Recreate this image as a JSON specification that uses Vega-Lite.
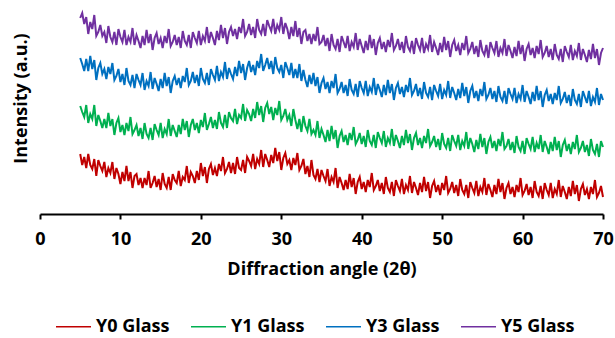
{
"$schema": "https://vega.github.io/schema/vega-lite/v6.json",
"width": 563, "height": 214,
"autosize": {"type": "none"},
"padding": {"left": 40, "top": 0, "right": 12, "bottom": 124},
"background": "white",
"config": {"view": {"stroke": null}, "font": "Open Sans"},
"data": {"values": [
{"x":5,"Y0":60,"Y1":108,"Y3":156,"Y5":196},
{"x":5.25,"Y0":49,"Y1":102,"Y3":150,"Y5":201},
{"x":5.5,"Y0":57,"Y1":97,"Y3":143,"Y5":190},
{"x":5.75,"Y0":46,"Y1":109,"Y3":155,"Y5":197},
{"x":6,"Y0":60,"Y1":91,"Y3":143,"Y5":180},
{"x":6.25,"Y0":49,"Y1":100,"Y3":158,"Y5":192},
{"x":6.5,"Y0":45,"Y1":95,"Y3":145,"Y5":185},
{"x":6.75,"Y0":55,"Y1":109,"Y3":154,"Y5":199},
{"x":7,"Y0":38,"Y1":88,"Y3":134,"Y5":178},
{"x":7.25,"Y0":54,"Y1":99,"Y3":146,"Y5":182},
{"x":7.5,"Y0":48,"Y1":93,"Y3":151,"Y5":189},
{"x":7.75,"Y0":43,"Y1":86,"Y3":140,"Y5":178},
{"x":8,"Y0":52,"Y1":95,"Y3":145,"Y5":182},
{"x":8.25,"Y0":37,"Y1":86,"Y3":135,"Y5":171},
{"x":8.5,"Y0":46,"Y1":101,"Y3":147,"Y5":188},
{"x":8.75,"Y0":41,"Y1":88,"Y3":140,"Y5":177},
{"x":9,"Y0":52,"Y1":95,"Y3":151,"Y5":172},
{"x":9.25,"Y0":35,"Y1":79,"Y3":134,"Y5":182},
{"x":9.5,"Y0":46,"Y1":91,"Y3":138,"Y5":169},
{"x":9.75,"Y0":40,"Y1":96,"Y3":145,"Y5":185},
{"x":10,"Y0":30,"Y1":82,"Y3":132,"Y5":177},
{"x":10.25,"Y0":42,"Y1":89,"Y3":140,"Y5":172},
{"x":10.5,"Y0":33,"Y1":79,"Y3":129,"Y5":184},
{"x":10.75,"Y0":48,"Y1":91,"Y3":146,"Y5":169},
{"x":11,"Y0":33,"Y1":83,"Y3":133,"Y5":177},
{"x":11.25,"Y0":42,"Y1":97,"Y3":129,"Y5":172},
{"x":11.5,"Y0":26,"Y1":80,"Y3":139,"Y5":186},
{"x":11.75,"Y0":38,"Y1":84,"Y3":126,"Y5":169},
{"x":12,"Y0":40,"Y1":89,"Y3":140,"Y5":179},
{"x":12.25,"Y0":29,"Y1":78,"Y3":134,"Y5":173},
{"x":12.5,"Y0":36,"Y1":86,"Y3":129,"Y5":166},
{"x":12.75,"Y0":26,"Y1":75,"Y3":141,"Y5":178},
{"x":13,"Y0":36,"Y1":91,"Y3":124,"Y5":169},
{"x":13.25,"Y0":29,"Y1":80,"Y3":133,"Y5":184},
{"x":13.5,"Y0":43,"Y1":76,"Y3":128,"Y5":171},
{"x":13.75,"Y0":26,"Y1":86,"Y3":142,"Y5":180},
{"x":14,"Y0":31,"Y1":74,"Y3":125,"Y5":164},
{"x":14.25,"Y0":38,"Y1":90,"Y3":136,"Y5":176},
{"x":14.5,"Y0":27,"Y1":84,"Y3":130,"Y5":181},
{"x":14.75,"Y0":35,"Y1":79,"Y3":123,"Y5":170},
{"x":15,"Y0":24,"Y1":91,"Y3":135,"Y5":176},
{"x":15.25,"Y0":41,"Y1":76,"Y3":126,"Y5":166},
{"x":15.5,"Y0":30,"Y1":85,"Y3":141,"Y5":178},
{"x":15.75,"Y0":26,"Y1":80,"Y3":128,"Y5":171},
{"x":16,"Y0":37,"Y1":95,"Y3":137,"Y5":185},
{"x":16.25,"Y0":24,"Y1":78,"Y3":121,"Y5":168},
{"x":16.5,"Y0":40,"Y1":89,"Y3":133,"Y5":172},
{"x":16.75,"Y0":34,"Y1":83,"Y3":138,"Y5":179},
{"x":17,"Y0":31,"Y1":77,"Y3":129,"Y5":169},
{"x":17.25,"Y0":43,"Y1":89,"Y3":136,"Y5":177},
{"x":17.5,"Y0":28,"Y1":80,"Y3":126,"Y5":166},
{"x":17.75,"Y0":37,"Y1":95,"Y3":138,"Y5":183},
{"x":18,"Y0":34,"Y1":84,"Y3":132,"Y5":173},
{"x":18.25,"Y0":48,"Y1":93,"Y3":146,"Y5":169},
{"x":18.5,"Y0":31,"Y1":77,"Y3":129,"Y5":179},
{"x":18.75,"Y0":42,"Y1":89,"Y3":133,"Y5":166},
{"x":19,"Y0":38,"Y1":95,"Y3":142,"Y5":182},
{"x":19.25,"Y0":31,"Y1":84,"Y3":131,"Y5":176},
{"x":19.5,"Y0":43,"Y1":91,"Y3":139,"Y5":171},
{"x":19.75,"Y0":34,"Y1":81,"Y3":128,"Y5":183},
{"x":20,"Y0":51,"Y1":94,"Y3":146,"Y5":169},
{"x":20.25,"Y0":38,"Y1":87,"Y3":135,"Y5":178},
{"x":20.5,"Y0":47,"Y1":101,"Y3":131,"Y5":173},
{"x":20.75,"Y0":31,"Y1":84,"Y3":141,"Y5":187},
{"x":21,"Y0":45,"Y1":90,"Y3":129,"Y5":171},
{"x":21.25,"Y0":50,"Y1":97,"Y3":145,"Y5":182},
{"x":21.5,"Y0":39,"Y1":86,"Y3":139,"Y5":176},
{"x":21.75,"Y0":46,"Y1":94,"Y3":134,"Y5":169},
{"x":22,"Y0":38,"Y1":85,"Y3":148,"Y5":183},
{"x":22.25,"Y0":50,"Y1":102,"Y3":133,"Y5":174},
{"x":22.5,"Y0":43,"Y1":91,"Y3":142,"Y5":189},
{"x":22.75,"Y0":57,"Y1":87,"Y3":137,"Y5":176},
{"x":23,"Y0":41,"Y1":99,"Y3":152,"Y5":186},
{"x":23.25,"Y0":45,"Y1":86,"Y3":135,"Y5":170},
{"x":23.5,"Y0":52,"Y1":102,"Y3":146,"Y5":182},
{"x":23.75,"Y0":41,"Y1":96,"Y3":140,"Y5":187},
{"x":24,"Y0":51,"Y1":93,"Y3":135,"Y5":178},
{"x":24.25,"Y0":40,"Y1":105,"Y3":147,"Y5":185},
{"x":24.5,"Y0":57,"Y1":90,"Y3":138,"Y5":175},
{"x":24.75,"Y0":46,"Y1":99,"Y3":153,"Y5":187},
{"x":25,"Y0":44,"Y1":96,"Y3":141,"Y5":181},
{"x":25.25,"Y0":54,"Y1":110,"Y3":150,"Y5":195},
{"x":25.5,"Y0":41,"Y1":93,"Y3":134,"Y5":178},
{"x":25.75,"Y0":57,"Y1":104,"Y3":146,"Y5":182},
{"x":26,"Y0":53,"Y1":100,"Y3":153,"Y5":190},
{"x":26.25,"Y0":48,"Y1":93,"Y3":142,"Y5":179},
{"x":26.5,"Y0":60,"Y1":105,"Y3":149,"Y5":187},
{"x":26.75,"Y0":45,"Y1":96,"Y3":139,"Y5":176},
{"x":27,"Y0":55,"Y1":112,"Y3":153,"Y5":195},
{"x":27.25,"Y0":50,"Y1":99,"Y3":146,"Y5":184},
{"x":27.5,"Y0":64,"Y1":108,"Y3":160,"Y5":180},
{"x":27.75,"Y0":47,"Y1":92,"Y3":143,"Y5":190},
{"x":28,"Y0":60,"Y1":106,"Y3":149,"Y5":178},
{"x":28.25,"Y0":54,"Y1":111,"Y3":156,"Y5":194},
{"x":28.5,"Y0":47,"Y1":100,"Y3":145,"Y5":188},
{"x":28.75,"Y0":59,"Y1":107,"Y3":153,"Y5":183},
{"x":29,"Y0":51,"Y1":94,"Y3":140,"Y5":195},
{"x":29.25,"Y0":66,"Y1":106,"Y3":157,"Y5":180},
{"x":29.5,"Y0":53,"Y1":99,"Y3":146,"Y5":189},
{"x":29.75,"Y0":62,"Y1":113,"Y3":142,"Y5":184},
{"x":30,"Y0":44,"Y1":94,"Y3":149,"Y5":197},
{"x":30.25,"Y0":56,"Y1":98,"Y3":136,"Y5":180},
{"x":30.5,"Y0":61,"Y1":105,"Y3":152,"Y5":191},
{"x":30.75,"Y0":50,"Y1":94,"Y3":146,"Y5":185},
{"x":31,"Y0":54,"Y1":99,"Y3":139,"Y5":175},
{"x":31.25,"Y0":44,"Y1":88,"Y3":151,"Y5":187},
{"x":31.5,"Y0":56,"Y1":105,"Y3":136,"Y5":178},
{"x":31.75,"Y0":49,"Y1":94,"Y3":145,"Y5":193},
{"x":32,"Y0":61,"Y1":85,"Y3":136,"Y5":177},
{"x":32.25,"Y0":44,"Y1":95,"Y3":150,"Y5":186},
{"x":32.5,"Y0":48,"Y1":82,"Y3":133,"Y5":170},
{"x":32.75,"Y0":55,"Y1":98,"Y3":144,"Y5":182},
{"x":33,"Y0":40,"Y1":88,"Y3":134,"Y5":184},
{"x":33.25,"Y0":48,"Y1":83,"Y3":127,"Y5":173},
{"x":33.5,"Y0":37,"Y1":95,"Y3":139,"Y5":180},
{"x":33.75,"Y0":54,"Y1":80,"Y3":130,"Y5":170},
{"x":34,"Y0":39,"Y1":84,"Y3":141,"Y5":180},
{"x":34.25,"Y0":35,"Y1":79,"Y3":128,"Y5":173},
{"x":34.5,"Y0":45,"Y1":93,"Y3":137,"Y5":187},
{"x":34.75,"Y0":32,"Y1":76,"Y3":121,"Y5":170},
{"x":35,"Y0":44,"Y1":85,"Y3":131,"Y5":172},
{"x":35.25,"Y0":38,"Y1":79,"Y3":136,"Y5":179},
{"x":35.5,"Y0":33,"Y1":72,"Y3":125,"Y5":168},
{"x":35.75,"Y0":45,"Y1":84,"Y3":132,"Y5":176},
{"x":36,"Y0":28,"Y1":73,"Y3":121,"Y5":163},
{"x":36.25,"Y0":37,"Y1":88,"Y3":133,"Y5":180},
{"x":36.5,"Y0":32,"Y1":75,"Y3":126,"Y5":169},
{"x":36.75,"Y0":46,"Y1":84,"Y3":140,"Y5":165},
{"x":37,"Y0":26,"Y1":66,"Y3":121,"Y5":175},
{"x":37.25,"Y0":37,"Y1":78,"Y3":125,"Y5":162},
{"x":37.5,"Y0":31,"Y1":83,"Y3":132,"Y5":178},
{"x":37.75,"Y0":24,"Y1":72,"Y3":121,"Y5":172},
{"x":38,"Y0":34,"Y1":79,"Y3":129,"Y5":166},
{"x":38.25,"Y0":25,"Y1":69,"Y3":118,"Y5":178},
{"x":38.5,"Y0":40,"Y1":81,"Y3":135,"Y5":163},
{"x":38.75,"Y0":27,"Y1":74,"Y3":124,"Y5":172},
{"x":39,"Y0":36,"Y1":87,"Y3":120,"Y5":167},
{"x":39.25,"Y0":20,"Y1":70,"Y3":130,"Y5":181},
{"x":39.5,"Y0":32,"Y1":74,"Y3":117,"Y5":164},
{"x":39.75,"Y0":37,"Y1":81,"Y3":133,"Y5":175},
{"x":40,"Y0":25,"Y1":70,"Y3":126,"Y5":168},
{"x":40.25,"Y0":32,"Y1":78,"Y3":121,"Y5":161},
{"x":40.5,"Y0":22,"Y1":67,"Y3":133,"Y5":173},
{"x":40.75,"Y0":34,"Y1":84,"Y3":118,"Y5":164},
{"x":41,"Y0":27,"Y1":73,"Y3":127,"Y5":179},
{"x":41.25,"Y0":41,"Y1":69,"Y3":122,"Y5":166},
{"x":41.5,"Y0":24,"Y1":79,"Y3":136,"Y5":175},
{"x":41.75,"Y0":28,"Y1":66,"Y3":119,"Y5":159},
{"x":42,"Y0":34,"Y1":82,"Y3":130,"Y5":171},
{"x":42.25,"Y0":23,"Y1":76,"Y3":124,"Y5":176},
{"x":42.5,"Y0":31,"Y1":71,"Y3":117,"Y5":165},
{"x":42.75,"Y0":20,"Y1":83,"Y3":129,"Y5":172},
{"x":43,"Y0":37,"Y1":67,"Y3":119,"Y5":162},
{"x":43.25,"Y0":26,"Y1":76,"Y3":134,"Y5":174},
{"x":43.5,"Y0":22,"Y1":71,"Y3":121,"Y5":167},
{"x":43.75,"Y0":32,"Y1":85,"Y3":130,"Y5":181},
{"x":44,"Y0":18,"Y1":68,"Y3":114,"Y5":164},
{"x":44.25,"Y0":34,"Y1":79,"Y3":126,"Y5":168},
{"x":44.5,"Y0":28,"Y1":73,"Y3":131,"Y5":175},
{"x":44.75,"Y0":23,"Y1":66,"Y3":120,"Y5":164},
{"x":45,"Y0":35,"Y1":78,"Y3":127,"Y5":172},
{"x":45.25,"Y0":20,"Y1":69,"Y3":117,"Y5":161},
{"x":45.5,"Y0":29,"Y1":84,"Y3":129,"Y5":178},
{"x":45.75,"Y0":24,"Y1":71,"Y3":122,"Y5":167},
{"x":46,"Y0":38,"Y1":80,"Y3":136,"Y5":163},
{"x":46.25,"Y0":21,"Y1":64,"Y3":119,"Y5":173},
{"x":46.5,"Y0":32,"Y1":76,"Y3":123,"Y5":160},
{"x":46.75,"Y0":26,"Y1":81,"Y3":130,"Y5":176},
{"x":47,"Y0":19,"Y1":69,"Y3":118,"Y5":169},
{"x":47.25,"Y0":31,"Y1":76,"Y3":126,"Y5":164},
{"x":47.5,"Y0":22,"Y1":66,"Y3":115,"Y5":176},
{"x":47.75,"Y0":37,"Y1":78,"Y3":132,"Y5":161},
{"x":48,"Y0":23,"Y1":71,"Y3":121,"Y5":170},
{"x":48.25,"Y0":32,"Y1":85,"Y3":117,"Y5":165},
{"x":48.5,"Y0":16,"Y1":68,"Y3":127,"Y5":179},
{"x":48.75,"Y0":28,"Y1":72,"Y3":114,"Y5":162},
{"x":49,"Y0":33,"Y1":78,"Y3":129,"Y5":172},
{"x":49.25,"Y0":22,"Y1":67,"Y3":123,"Y5":166},
{"x":49.5,"Y0":29,"Y1":75,"Y3":118,"Y5":159},
{"x":49.75,"Y0":19,"Y1":64,"Y3":130,"Y5":171},
{"x":50,"Y0":31,"Y1":81,"Y3":115,"Y5":162},
{"x":50.25,"Y0":24,"Y1":70,"Y3":124,"Y5":177},
{"x":50.5,"Y0":38,"Y1":66,"Y3":119,"Y5":164},
{"x":50.75,"Y0":21,"Y1":76,"Y3":133,"Y5":173},
{"x":51,"Y0":25,"Y1":63,"Y3":116,"Y5":157},
{"x":51.25,"Y0":32,"Y1":79,"Y3":127,"Y5":169},
{"x":51.5,"Y0":21,"Y1":73,"Y3":121,"Y5":174},
{"x":51.75,"Y0":29,"Y1":68,"Y3":114,"Y5":163},
{"x":52,"Y0":18,"Y1":79,"Y3":125,"Y5":169},
{"x":52.25,"Y0":35,"Y1":64,"Y3":116,"Y5":159},
{"x":52.5,"Y0":24,"Y1":73,"Y3":131,"Y5":171},
{"x":52.75,"Y0":20,"Y1":68,"Y3":118,"Y5":164},
{"x":53,"Y0":29,"Y1":82,"Y3":127,"Y5":178},
{"x":53.25,"Y0":16,"Y1":65,"Y3":111,"Y5":161},
{"x":53.5,"Y0":32,"Y1":76,"Y3":123,"Y5":165},
{"x":53.75,"Y0":26,"Y1":70,"Y3":128,"Y5":172},
{"x":54,"Y0":21,"Y1":62,"Y3":116,"Y5":160},
{"x":54.25,"Y0":33,"Y1":74,"Y3":123,"Y5":168},
{"x":54.5,"Y0":18,"Y1":65,"Y3":113,"Y5":157},
{"x":54.75,"Y0":27,"Y1":80,"Y3":125,"Y5":174},
{"x":55,"Y0":22,"Y1":67,"Y3":118,"Y5":163},
{"x":55.25,"Y0":36,"Y1":76,"Y3":132,"Y5":159},
{"x":55.5,"Y0":19,"Y1":60,"Y3":115,"Y5":169},
{"x":55.75,"Y0":30,"Y1":72,"Y3":119,"Y5":156},
{"x":56,"Y0":24,"Y1":77,"Y3":126,"Y5":172},
{"x":56.25,"Y0":17,"Y1":66,"Y3":115,"Y5":166},
{"x":56.5,"Y0":29,"Y1":73,"Y3":123,"Y5":161},
{"x":56.75,"Y0":20,"Y1":63,"Y3":112,"Y5":173},
{"x":57,"Y0":35,"Y1":75,"Y3":128,"Y5":157},
{"x":57.25,"Y0":22,"Y1":68,"Y3":117,"Y5":166},
{"x":57.5,"Y0":31,"Y1":82,"Y3":113,"Y5":161},
{"x":57.75,"Y0":15,"Y1":65,"Y3":123,"Y5":175},
{"x":58,"Y0":26,"Y1":68,"Y3":110,"Y5":158},
{"x":58.25,"Y0":31,"Y1":75,"Y3":126,"Y5":169},
{"x":58.5,"Y0":20,"Y1":64,"Y3":120,"Y5":163},
{"x":58.75,"Y0":27,"Y1":72,"Y3":115,"Y5":156},
{"x":59,"Y0":17,"Y1":61,"Y3":126,"Y5":167},
{"x":59.25,"Y0":29,"Y1":78,"Y3":111,"Y5":158},
{"x":59.5,"Y0":22,"Y1":67,"Y3":120,"Y5":173},
{"x":59.75,"Y0":36,"Y1":63,"Y3":115,"Y5":160},
{"x":60,"Y0":19,"Y1":73,"Y3":129,"Y5":169},
{"x":60.25,"Y0":23,"Y1":60,"Y3":112,"Y5":153},
{"x":60.5,"Y0":30,"Y1":76,"Y3":123,"Y5":165},
{"x":60.75,"Y0":19,"Y1":70,"Y3":117,"Y5":170},
{"x":61,"Y0":27,"Y1":65,"Y3":110,"Y5":159},
{"x":61.25,"Y0":16,"Y1":77,"Y3":122,"Y5":166},
{"x":61.5,"Y0":33,"Y1":62,"Y3":113,"Y5":156},
{"x":61.75,"Y0":22,"Y1":71,"Y3":128,"Y5":168},
{"x":62,"Y0":18,"Y1":65,"Y3":114,"Y5":160},
{"x":62.25,"Y0":28,"Y1":79,"Y3":123,"Y5":174},
{"x":62.5,"Y0":15,"Y1":62,"Y3":107,"Y5":157},
{"x":62.75,"Y0":31,"Y1":73,"Y3":119,"Y5":161},
{"x":63,"Y0":24,"Y1":67,"Y3":124,"Y5":168},
{"x":63.25,"Y0":19,"Y1":60,"Y3":113,"Y5":157},
{"x":63.5,"Y0":31,"Y1":72,"Y3":120,"Y5":165},
{"x":63.75,"Y0":16,"Y1":63,"Y3":110,"Y5":154},
{"x":64,"Y0":25,"Y1":77,"Y3":121,"Y5":170},
{"x":64.25,"Y0":20,"Y1":64,"Y3":114,"Y5":159},
{"x":64.5,"Y0":34,"Y1":73,"Y3":128,"Y5":155},
{"x":64.75,"Y0":17,"Y1":57,"Y3":111,"Y5":165},
{"x":65,"Y0":28,"Y1":69,"Y3":115,"Y5":152},
{"x":65.25,"Y0":22,"Y1":74,"Y3":122,"Y5":168},
{"x":65.5,"Y0":15,"Y1":63,"Y3":111,"Y5":162},
{"x":65.75,"Y0":27,"Y1":70,"Y3":119,"Y5":157},
{"x":66,"Y0":18,"Y1":60,"Y3":108,"Y5":169},
{"x":66.25,"Y0":33,"Y1":72,"Y3":125,"Y5":154},
{"x":66.5,"Y0":20,"Y1":65,"Y3":114,"Y5":163},
{"x":66.75,"Y0":29,"Y1":79,"Y3":110,"Y5":158},
{"x":67,"Y0":13,"Y1":62,"Y3":120,"Y5":171},
{"x":67.25,"Y0":25,"Y1":66,"Y3":107,"Y5":154},
{"x":67.5,"Y0":30,"Y1":73,"Y3":123,"Y5":165},
{"x":67.75,"Y0":19,"Y1":62,"Y3":117,"Y5":159},
{"x":68,"Y0":25,"Y1":69,"Y3":111,"Y5":152},
{"x":68.25,"Y0":15,"Y1":58,"Y3":123,"Y5":164},
{"x":68.5,"Y0":27,"Y1":75,"Y3":108,"Y5":155},
{"x":68.75,"Y0":20,"Y1":64,"Y3":117,"Y5":170},
{"x":69,"Y0":34,"Y1":60,"Y3":112,"Y5":156},
{"x":69.25,"Y0":17,"Y1":70,"Y3":126,"Y5":165},
{"x":69.5,"Y0":21,"Y1":57,"Y3":109,"Y5":149},
{"x":69.75,"Y0":28,"Y1":73,"Y3":120,"Y5":161},
{"x":70,"Y0":17,"Y1":67,"Y3":114,"Y5":166}
]},
"transform": [{"fold": ["Y0", "Y1", "Y3", "Y5"], "as": ["series", "intensity"]}],
"mark": {"type": "line", "strokeWidth": 2},
"encoding": {
  "x": {"field": "x", "type": "quantitative",
    "scale": {"domain": [0, 70], "nice": false, "zero": false},
    "axis": {"values": [0, 10, 20, 30, 40, 50, 60, 70], "title": "Diffraction angle (2θ)", "grid": false,
      "domainColor": "black", "domainWidth": 2, "tickColor": "black", "tickWidth": 2, "tickSize": 5,
      "labelFont": "Open Sans", "labelFontWeight": "bold", "labelFontSize": 18, "labelColor": "black", "labelPadding": 11, "labelFlush": false,
      "titleFont": "Open Sans", "titleFontWeight": "bold", "titleFontSize": 18, "titleColor": "black", "titlePadding": 12}},
  "y": {"field": "intensity", "type": "quantitative",
    "scale": {"domain": [0, 214], "nice": false},
    "axis": {"title": "Intensity (a.u.)", "labels": false, "ticks": false, "domain": false, "grid": false,
      "titleFont": "Open Sans", "titleFontWeight": "bold", "titleFontSize": 18, "titleColor": "black", "titlePadding": 10, "titleY": 98}},
  "color": {"field": "series", "type": "nominal",
    "scale": {"domain": ["Y0", "Y1", "Y3", "Y5"], "range": ["#C00000", "#00B050", "#0070C0", "#7030A0"]},
    "legend": {"title": null, "orient": "none", "direction": "horizontal", "legendX": 15, "legendY": 308,
      "symbolType": "stroke", "symbolSize": 1225, "symbolStrokeWidth": 1.5,
      "labelExpr": "datum.label + ' Glass'", "labelFont": "Open Sans", "labelFontWeight": "bold", "labelFontSize": 18, "labelColor": "black",
      "labelOffset": 4, "columnPadding": 18}}
}
}
